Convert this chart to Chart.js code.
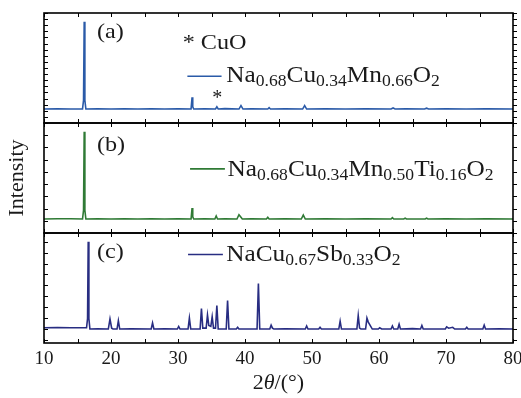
<!DOCTYPE html>
<html>
<head>
<meta charset="utf-8">
<script src="https://cdn.jsdelivr.net/npm/chart.js@4.4.0/dist/chart.umd.min.js"></script>
<style>
  html, body { margin: 0; padding: 0; background: #fff; }
</style>
</head>
<body>
<canvas id="xrd" width="521" height="398"></canvas>
<script>
// XRD patterns: [2theta, intensity normalised to strongest peak]
const patternA = [
  [10, 0], [12, 0.004], [14, 0], [15.75, 0.002], [15.9, 0.1], [16.0, 1.0], [16.1, 0.1], [16.25, 0],
  [18, 0.004], [20, 0], [22, 0.004], [24, 0], [26, 0.003], [28, 0], [30, 0.004],
  [31.95, 0], [32.1, 0.135], [32.2, 0.025], [32.35, 0], [34, 0.004],
  [35.6, 0], [35.8, 0.025], [36.0, 0], [37, 0.005], [39.1, 0], [39.4, 0.04], [39.7, 0],
  [41, 0.004], [43.4, 0], [43.6, 0.015], [43.8, 0], [46, 0.003], [48.6, 0], [48.9, 0.04], [49.2, 0],
  [52, 0.004], [55, 0], [58, 0.003], [61.8, 0], [62.1, 0.012], [62.4, 0], [64, 0.004],
  [66.8, 0], [67.1, 0.01], [67.4, 0], [70, 0.003], [73, 0], [76, 0.004], [80, 0]
];
const patternB = [
  [10, 0], [12, 0.003], [14, 0.004], [15.75, 0], [15.9, 0.1], [16.0, 1.0], [16.1, 0.1], [16.25, 0],
  [18, 0.003], [20, 0], [22, 0.004], [24, 0], [26, 0.003], [28, 0], [30, 0.003],
  [31.95, 0], [32.1, 0.125], [32.2, 0.025], [32.35, 0], [34, 0.004],
  [35.5, 0], [35.7, 0.035], [35.9, 0], [37, 0.004], [38.8, 0], [39.1, 0.05], [39.4, 0.02], [39.6, 0],
  [41, 0.004], [43.2, 0], [43.4, 0.02], [43.6, 0], [46, 0.003], [48.4, 0], [48.7, 0.045], [49.0, 0],
  [52, 0.004], [55, 0], [58, 0.003], [61.8, 0], [62.0, 0.015], [62.2, 0], [63.7, 0], [63.9, 0.01], [64.1, 0],
  [66.9, 0], [67.1, 0.01], [67.3, 0], [70, 0.003], [73, 0], [76, 0.004], [80, 0]
];
const patternC = [
  [10, 0.015], [12, 0.018], [14, 0.015], [16.35, 0.015], [16.5, 0.12], [16.6, 1.0], [16.7, 0.12], [16.85, 0],
  [18, 0.004], [19.6, 0], [19.85, 0.115], [20.1, 0.01], [20.3, 0], [20.9, 0], [21.1, 0.095], [21.3, 0],
  [23, 0.004], [26.0, 0], [26.2, 0.07], [26.4, 0], [28, 0.004], [29.9, 0], [30.1, 0.03], [30.3, 0],
  [31.5, 0], [31.7, 0.125], [31.9, 0], [33.3, 0], [33.5, 0.235], [33.7, 0.01], [34.2, 0.01], [34.4, 0.16],
  [34.6, 0.04], [34.9, 0.03], [35.1, 0.14], [35.3, 0.01], [35.6, 0.01], [35.8, 0.27], [36.0, 0],
  [37.2, 0], [37.4, 0.325], [37.6, 0], [38.7, 0], [38.9, 0.02], [39.1, 0], [41.8, 0], [42.0, 0.52], [42.2, 0],
  [43.7, 0], [43.9, 0.045], [44.1, 0.01], [44.3, 0], [46, 0.004], [49.0, 0], [49.2, 0.035], [49.4, 0],
  [51.0, 0], [51.2, 0.02], [51.4, 0], [54.0, 0], [54.2, 0.09], [54.4, 0], [56.7, 0], [56.9, 0.155], [57.1, 0.01],
  [57.3, 0], [58.0, 0], [58.2, 0.125], [58.4, 0.08], [58.7, 0.04], [59.0, 0], [59.9, 0], [60.1, 0.015], [60.4, 0],
  [61.8, 0], [62.0, 0.035], [62.2, 0], [62.8, 0], [63.0, 0.055], [63.2, 0], [65, 0.005], [66.2, 0], [66.4, 0.04],
  [66.6, 0], [69.9, 0], [70.1, 0.025], [70.4, 0.01], [71.0, 0.02], [71.3, 0], [72.9, 0], [73.1, 0.02], [73.3, 0],
  [75.5, 0], [75.7, 0.045], [75.9, 0], [78, 0.004], [80, 0]
];

// labels, [text, isSubscript]
const panelTags = ["(a)", "(b)", "(c)"];
const formulaA = [["Na", 0], ["0.68", 1], ["Cu", 0], ["0.34", 1], ["Mn", 0], ["0.66", 1], ["O", 0], ["2", 1]];
const formulaB = [["Na", 0], ["0.68", 1], ["Cu", 0], ["0.34", 1], ["Mn", 0], ["0.50", 1], ["Ti", 0], ["0.16", 1], ["O", 0], ["2", 1]];
const formulaC = [["Na", 0], ["Cu", 0], ["0.67", 1], ["Sb", 0], ["0.33", 1], ["O", 0], ["2", 1]];
const impurityNote = "* CuO";
const xTitle = [["2", ""], ["θ", "italic "], ["/(°)", ""]];
const yTitle = "Intensity";

const colors = ["#2a5aa8", "#2f7a35", "#282d82"];
const SERIF = '"Liberation Serif", "Times New Roman", serif';
const STRETCH = 1.1;

// where the labels sit, in data units of each panel
const labelPos = [
  { tagY: 0.875, lineX: [31.4, 36.5], lineY: 0.376, textX: 37.2, textY: 0.314 },
  { tagY: 0.84, lineX: [31.8, 37.0], lineY: 0.575, textX: 37.4, textY: 0.498 },
  { tagY: 0.877, lineX: [31.5, 36.7], lineY: 0.854, textX: 37.2, textY: 0.785 }
];
const formulas = [formulaA, formulaB, formulaC];
const yIds = ["ya", "yb", "yc"];

function drawParts(ctx, parts, x, y, size, subSize) {
  // draws a formula with subscripts, stretched a bit to look like the latex font
  ctx.save();
  ctx.translate(x, y);
  ctx.scale(STRETCH, 1);
  let cx = 0;
  parts.forEach(([t, sub]) => {
    ctx.font = (sub ? subSize : size) + "px " + SERIF;
    ctx.fillText(t, cx, sub ? 4 : 0);
    cx += ctx.measureText(t).width;
  });
  ctx.restore();
}

const framePlugin = {
  id: "frame",
  afterDatasetsDraw(chart) {
    const { ctx, chartArea, scales } = chart;
    const x = scales.x;
    const left = chartArea.left, right = chartArea.right;
    ctx.save();
    ctx.strokeStyle = "#000";
    yIds.forEach((id) => {
      const s = scales[id];
      ctx.lineWidth = 1;
      ctx.beginPath();
      s.ticks.forEach((t) => {
        const py = Math.round(s.getPixelForValue(t.value)) + 0.5;
        ctx.moveTo(left, py); ctx.lineTo(left + 4, py);
        ctx.moveTo(right, py); ctx.lineTo(right + 4, py);
      });
      for (let v = x.min; v <= x.max; v += 5) {
        const px = Math.round(x.getPixelForValue(v)) + 0.5;
        ctx.moveTo(px, s.top); ctx.lineTo(px, s.top + 4);
        ctx.moveTo(px, s.bottom); ctx.lineTo(px, s.bottom - 4);
      }
      ctx.stroke();
      ctx.lineWidth = 1.6;
      ctx.strokeRect(left, s.top, right - left, s.bottom - s.top);
    });
    ctx.restore();
  },
  afterDraw(chart) {
    const { ctx, chartArea, scales } = chart;
    const x = scales.x;
    ctx.save();
    ctx.fillStyle = "#1a1a1a";
    ctx.textAlign = "left";

    yIds.forEach((id, i) => {
      const s = scales[id];
      const p = labelPos[i];
      // panel tag
      ctx.textBaseline = "middle";
      ctx.save();
      ctx.translate(x.getPixelForValue(17.9), s.getPixelForValue(p.tagY));
      ctx.scale(STRETCH, 1);
      ctx.font = "22px " + SERIF;
      ctx.fillText(panelTags[i], 0, 0);
      ctx.restore();
      // legend sample line
      ctx.strokeStyle = colors[i];
      ctx.lineWidth = 1.6;
      ctx.beginPath();
      ctx.moveTo(x.getPixelForValue(p.lineX[0]), s.getPixelForValue(p.lineY));
      ctx.lineTo(x.getPixelForValue(p.lineX[1]), s.getPixelForValue(p.lineY));
      ctx.stroke();
      ctx.textBaseline = "alphabetic";
      drawParts(ctx, formulas[i], x.getPixelForValue(p.textX), s.getPixelForValue(p.textY), 23, 16);
    });

    // CuO impurity marks in panel (a)
    const ya = scales.ya;
    ctx.textBaseline = "alphabetic";
    ctx.save();
    ctx.translate(x.getPixelForValue(30.7), ya.getPixelForValue(0.686));
    ctx.scale(STRETCH, 1);
    ctx.font = "22px " + SERIF;
    ctx.fillText(impurityNote, 0, 0);
    ctx.restore();
    ctx.textAlign = "center";
    ctx.font = "20px " + SERIF;
    ctx.fillText("*", x.getPixelForValue(35.87), ya.getPixelForValue(0.054));

    // axis titles
    let w = 0;
    xTitle.forEach(([t, st]) => { ctx.font = st + "20px " + SERIF; w += ctx.measureText(t).width; });
    ctx.save();
    ctx.translate((x.left + x.right) / 2 - (w * STRETCH) / 2, chartArea.bottom + 46);
    ctx.scale(STRETCH, 1);
    ctx.textAlign = "left";
    let cx = 0;
    xTitle.forEach(([t, st]) => {
      ctx.font = st + "20px " + SERIF;
      ctx.fillText(t, cx, 0);
      cx += ctx.measureText(t).width;
    });
    ctx.restore();

    ctx.save();
    ctx.translate(18, (chartArea.top + chartArea.bottom) / 2);
    ctx.rotate(-Math.PI / 2);
    ctx.scale(STRETCH, 1);
    ctx.textAlign = "center";
    ctx.textBaseline = "middle";
    ctx.font = "20px " + SERIF;
    ctx.fillText(yTitle, 0, 0);
    ctx.restore();
    ctx.restore();
  }
};

function panelAxis(step) {
  return {
    type: "linear",
    position: "left",
    stack: "xrd",
    stackWeight: 1,
    min: -0.16,
    max: 1.1,
    ticks: { display: false, stepSize: step, includeBounds: false },
    grid: { display: false },
    border: { display: false },
    afterFit(s) { s.width = 0; }
  };
}

new Chart(document.getElementById("xrd"), {
  type: "line",
  data: {
    datasets: [patternA, patternB, patternC].map((pat, i) => ({
      data: pat.map((p) => ({ x: p[0], y: p[1] })),
      yAxisID: yIds[i],
      borderColor: colors[i],
      borderWidth: 1.6,
      pointRadius: 0,
      tension: 0,
      fill: false
    }))
  },
  options: {
    responsive: false,
    animation: false,
    devicePixelRatio: 1,
    layout: { padding: { left: 44, right: 8, top: 13, bottom: 0 } },
    plugins: { legend: { display: false }, tooltip: { enabled: false } },
    scales: {
      x: {
        type: "linear",
        min: 10,
        max: 80,
        ticks: { stepSize: 10, autoSkip: false, maxRotation: 0, padding: 5, color: "#1a1a1a",
                 font: { family: SERIF, size: 19 } },
        grid: { display: false, drawTicks: false },
        border: { display: false },
        afterFit(s) { s.height = 55; s.paddingLeft = 0; s.paddingRight = 0; }
      },
      // stacked panels: the scale listed last is placed on top
      yc: panelAxis(0.125),
      yb: panelAxis(0.14),
      ya: panelAxis(0.07)
    }
  },
  plugins: [framePlugin]
});
</script>
</body>
</html>
